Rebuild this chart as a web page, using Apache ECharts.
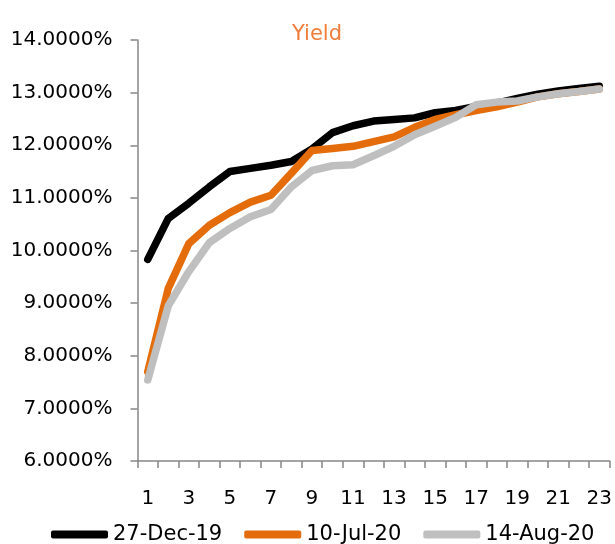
<!DOCTYPE html>
<html><head><meta charset="utf-8">
<script src="https://cdn.jsdelivr.net/npm/echarts@6/dist/echarts.min.js"></script>
<style>html,body{margin:0;padding:0;background:#fff}#c{width:615px;height:544px}</style>
</head><body><div id="c"></div>
<script>
const categories = ['1','2','3','4','5','6','7','8','9','10','11','12','13','14','15','16','17','18','19','20','21','22','23'];
const yTicks = [6,7,8,9,10,11,12,13,14];
const dec19 = [9.83,10.61,10.90,11.21,11.50,11.56,11.62,11.69,11.93,12.24,12.37,12.46,12.49,12.52,12.62,12.66,12.74,12.80,12.89,12.97,13.03,13.08,13.12];
const jul20 = [7.70,9.28,10.13,10.48,10.72,10.92,11.05,11.47,11.90,11.94,11.98,12.07,12.16,12.34,12.49,12.58,12.66,12.73,12.82,12.92,12.98,13.02,13.07];
const aug20 = [7.54,8.95,9.60,10.15,10.42,10.64,10.78,11.21,11.52,11.61,11.63,11.80,11.98,12.20,12.36,12.53,12.77,12.82,12.84,12.92,12.98,13.02,13.07];
const seriesNames = ['27-Dec-19','10-Jul-20','14-Aug-20'];
const colors = ['#000000','#E46C0A','#BFBFBF'];
const font = '"DejaVu Sans", sans-serif';
const chart = echarts.init(document.getElementById('c'));
const mk = (name, data, color) => ({
  name, type:'line', data, symbol:'none', smooth:false,
  lineStyle:{width:7.5,color,cap:'round',join:'round'}, itemStyle:{color}
});
chart.setOption({
  animation:false,
  title:{text:'Yield',left:287,top:19,textStyle:{color:'#F07D3A',fontSize:21,fontWeight:'normal',fontFamily:font}},
  grid:{left:137.5,right:2,top:40,bottom:83},
  legend:{bottom:-6,left:46,itemWidth:57,itemHeight:8,itemGap:22,icon:'roundRect',
    textStyle:{fontSize:21,color:'#000',fontFamily:font},
    data:seriesNames},
  xAxis:{type:'category',data:categories,boundaryGap:true,
    axisLine:{lineStyle:{color:'#868686',width:1.5}},
    axisTick:{show:true,length:7,interval:0,lineStyle:{color:'#868686',width:1.5}},
    axisLabel:{interval:1,fontSize:20,color:'#000',fontFamily:font,margin:28}},
  yAxis:{type:'value',min:yTicks[0],max:yTicks[yTicks.length-1],interval:1,
    axisLine:{show:true,lineStyle:{color:'#868686',width:1.5}},
    axisTick:{show:true,length:7,lineStyle:{color:'#868686',width:1.5}},
    splitLine:{show:false},
    axisLabel:{fontSize:20,color:'#000',fontFamily:font,margin:25,formatter:v=>v.toFixed(4)+'%'}},
  series:[mk(seriesNames[0],dec19,colors[0]),mk(seriesNames[1],jul20,colors[1]),mk(seriesNames[2],aug20,colors[2])]
});
</script></body></html>
